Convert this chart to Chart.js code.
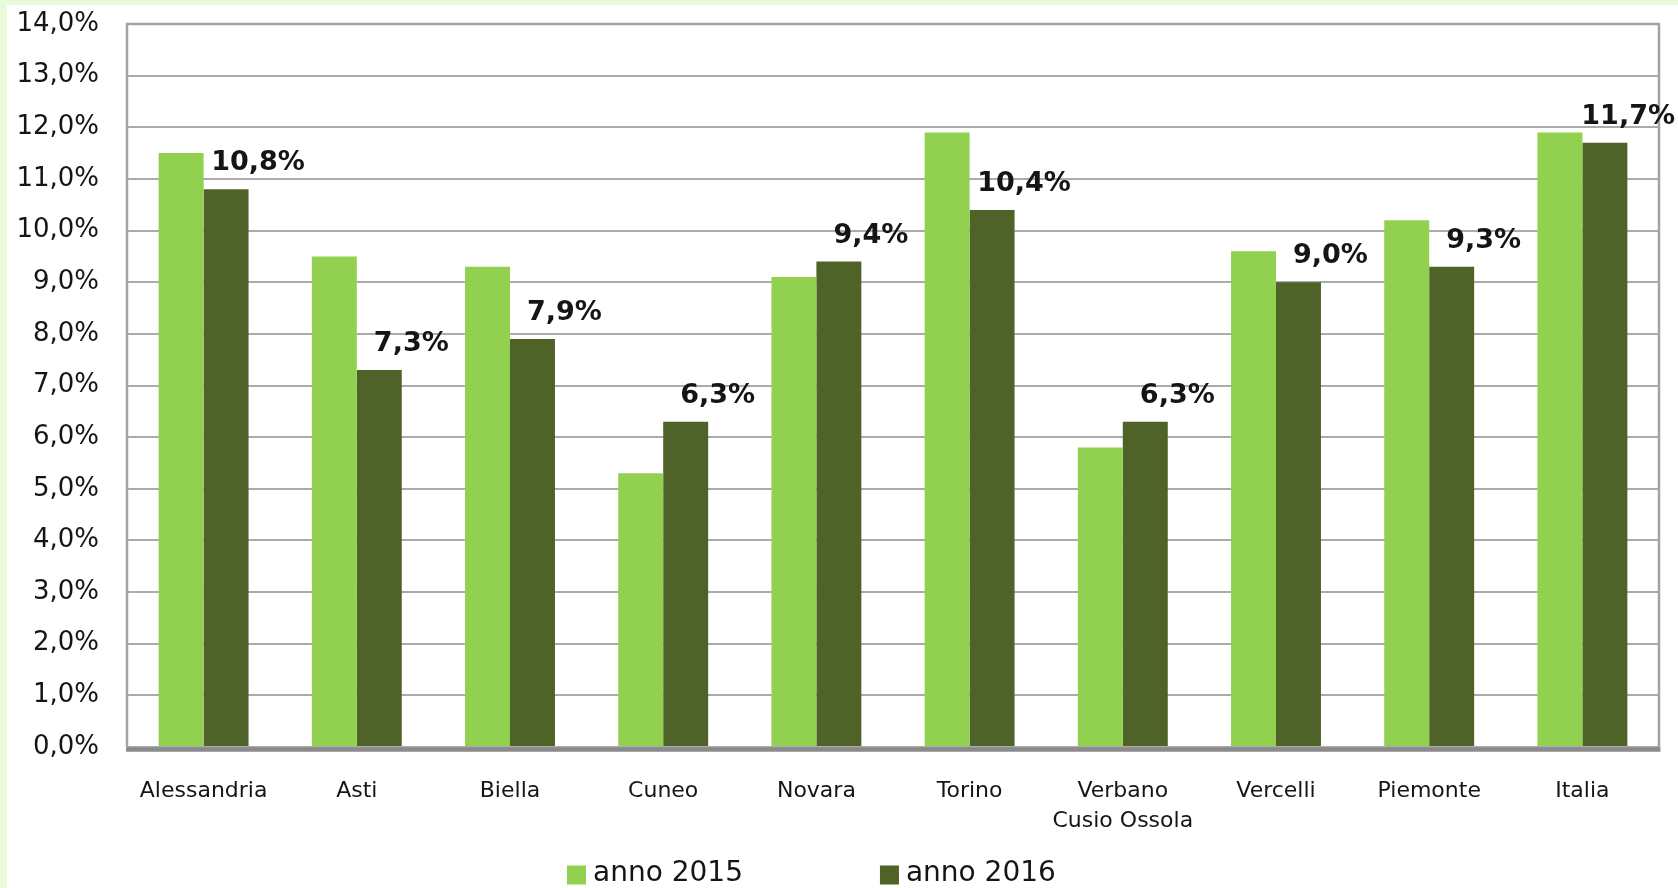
<!DOCTYPE html>
<html>
<head>
<meta charset="utf-8">
<script src="https://cdn.jsdelivr.net/npm/chart.js@4.4.1/dist/chart.umd.min.js"></script>
<style>
  html, body { margin: 0; padding: 0; }
  body { width: 1678px; height: 888px; background: #EAFBDA; position: relative; overflow: hidden; }
  #wrap { position: absolute; left: 7px; top: 5px; width: 1671px; height: 883px; background: #ffffff; }
  canvas { display: block; }
</style>
</head>
<body>
<div id="wrap"><canvas id="c" width="1671" height="883"></canvas></div>
<script>
// ---- data ----
const categories = ['Alessandria', 'Asti', 'Biella', 'Cuneo', 'Novara', 'Torino', ['Verbano', 'Cusio Ossola'], 'Vercelli', 'Piemonte', 'Italia'];
const seriesNames = ['anno 2015', 'anno 2016'];
const values2015 = [11.5, 9.5, 9.3, 5.3, 9.1, 11.9, 5.8, 9.6, 10.2, 11.9];
const values2016 = [10.8, 7.3, 7.9, 6.3, 9.4, 10.4, 6.3, 9.0, 9.3, 11.7];
const yTicks = [0, 1, 2, 3, 4, 5, 6, 7, 8, 9, 10, 11, 12, 13, 14];

const FONT = '"DejaVu Sans", Verdana, sans-serif';
const TEXT = '#151515';
const fmt = v => v.toFixed(1).replace('.', ',') + '%';

// frame: top/right/left border and thick bottom axis
const framePlugin = {
  id: 'frame',
  afterDatasetsDraw(chart) {
    const {ctx, chartArea: a} = chart;
    ctx.save();
    ctx.strokeStyle = '#a3a3a3';
    ctx.lineWidth = 2.5;
    ctx.beginPath();
    ctx.moveTo(a.left, a.bottom);
    ctx.lineTo(a.left, a.top);
    ctx.lineTo(a.right, a.top);
    ctx.lineTo(a.right, a.bottom);
    ctx.stroke();
    ctx.strokeStyle = '#8a8a8a';
    ctx.lineWidth = 4.5;
    ctx.beginPath();
    ctx.moveTo(a.left - 1, a.bottom + 2.5);
    ctx.lineTo(a.right + 1.5, a.bottom + 2.5);
    ctx.stroke();
    ctx.restore();
  }
};

// value labels for the 2016 series
const valueLabels = {
  id: 'valueLabels',
  afterDatasetsDraw(chart) {
    const {ctx} = chart;
    const meta = chart.getDatasetMeta(1);
    const ds = chart.data.datasets[1];
    ctx.save();
    ctx.font = 'bold 27px ' + FONT;
    ctx.fillStyle = TEXT;
    ctx.textAlign = 'center';
    ctx.textBaseline = 'middle';
    meta.data.forEach((bar, i) => {
      const txt = fmt(ds.data[i]);
      const w = ctx.measureText(txt).width;
      let x = bar.x + 32;
      x = Math.min(x, chart.width - w / 2 - 3);
      ctx.fillText(txt, x, bar.y - 26);
    });
    ctx.restore();
  }
};

// legend drawn at the bottom
const bottomLegend = {
  id: 'bottomLegend',
  afterDraw(chart) {
    const {ctx} = chart;
    ctx.save();
    ctx.font = '28px ' + FONT;
    ctx.textBaseline = 'middle';
    ctx.textAlign = 'left';
    let x = 560;
    const y = 869;
    const box = 19;
    chart.data.datasets.forEach(ds => {
      ctx.fillStyle = ds.backgroundColor;
      ctx.fillRect(x, y - box / 2 + 1, box, box);
      ctx.fillStyle = TEXT;
      ctx.fillText(ds.label, x + box + 7, y);
      x += box + 7 + ctx.measureText(ds.label).width + 137;
    });
    ctx.restore();
  }
};

new Chart(document.getElementById('c'), {
  type: 'bar',
  data: {
    labels: categories,
    datasets: [
      { label: seriesNames[0], data: values2015, backgroundColor: '#92D050', borderWidth: 0 },
      { label: seriesNames[1], data: values2016, backgroundColor: '#4F6228', borderWidth: 0 }
    ]
  },
  options: {
    responsive: false,
    animation: false,
    layout: { padding: { top: 19, right: 19, left: 0, bottom: 51 } },
    plugins: { legend: { display: false }, tooltip: { enabled: false } },
    datasets: { bar: { categoryPercentage: 0.587, barPercentage: 1.0 } },
    scales: {
      x: {
        grid: { display: false, drawTicks: false },
        border: { display: false },
        ticks: {
          font: { family: FONT, size: 22, lineHeight: '30px' },
          color: TEXT,
          padding: 29,
          maxRotation: 0,
          autoSkip: false
        },
        afterFit(s) { s.height = 90; }
      },
      y: {
        min: 0,
        max: 14,
        afterBuildTicks(s) { s.ticks = yTicks.map(v => ({ value: v })); },
        grid: { color: '#ababab', lineWidth: 2, drawTicks: false },
        border: { display: false },
        ticks: {
          font: { family: FONT, size: 26 },
          color: TEXT,
          padding: 28,
          callback: v => fmt(v)
        },
        afterFit(s) { s.width = 120; s.paddingTop = 0; s.paddingBottom = 0; }
      }
    }
  },
  plugins: [framePlugin, valueLabels, bottomLegend]
});
</script>
</body>
</html>
